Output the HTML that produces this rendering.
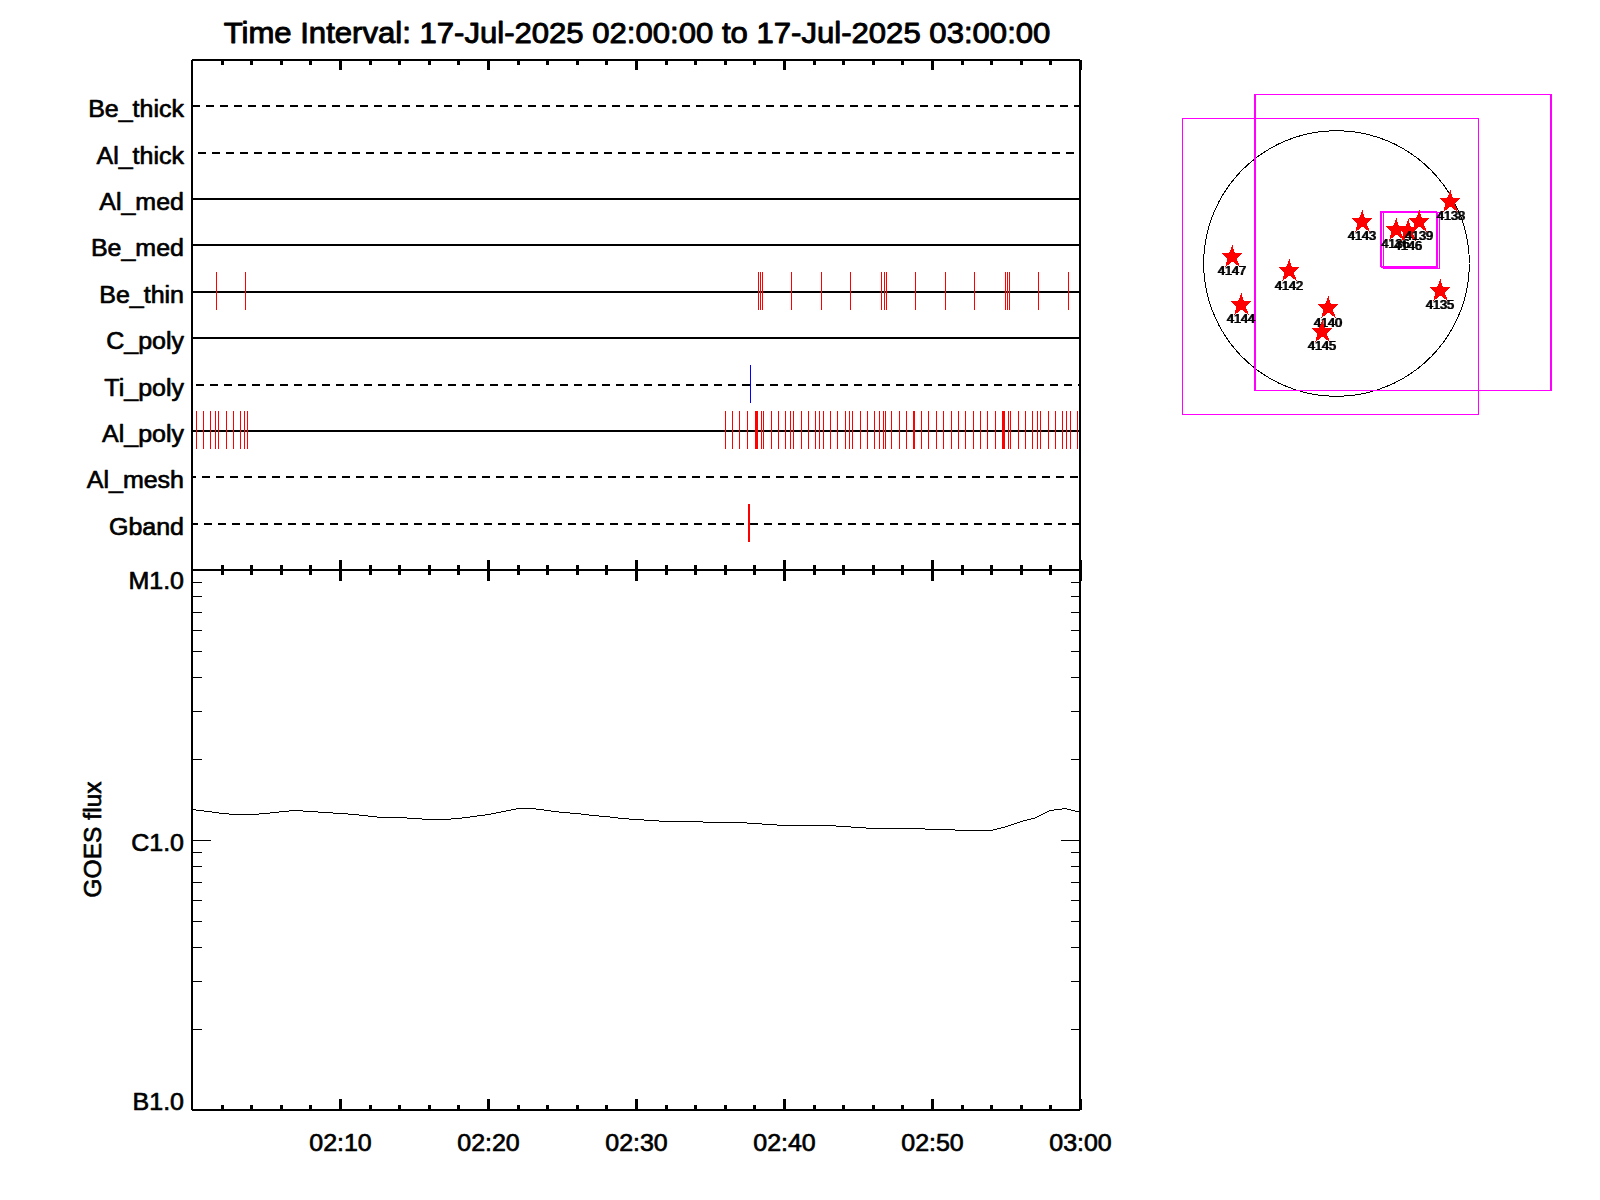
<!DOCTYPE html>
<html lang="en">
<head>
<meta charset="utf-8">
<title>XRT observation timeline</title>
<style>
html,body{margin:0;padding:0;background:#fff;}
body{width:1600px;height:1200px;overflow:hidden;}
svg{display:block;}
#frame,#xticks,#yticks,#rows,#obs,#goes,#fov,#limb{shape-rendering:crispEdges;}
text{white-space:pre;}
</style>
</head>
<body>
<svg width="1600" height="1200" viewBox="0 0 1600 1200">
<rect x="0" y="0" width="1600" height="1200" fill="#fff"/>
<g id="frame" fill="#000">
<rect x="191" y="59" width="2" height="1052" fill="#000"/>
<rect x="1079" y="59" width="2" height="1052" fill="#000"/>
<rect x="191" y="59" width="890" height="2" fill="#000"/>
<rect x="191" y="569" width="890" height="2" fill="#000"/>
<rect x="191" y="1109" width="890" height="2" fill="#000"/>
<rect x="191" y="59" width="1" height="1" fill="#fff"/>
<rect x="1080" y="59" width="1" height="1" fill="#fff"/>
<rect x="191" y="1110" width="1" height="1" fill="#fff"/>
<rect x="1080" y="1110" width="1" height="1" fill="#fff"/>
</g>
<g id="xticks" fill="#000">
<rect x="221" y="61" width="3" height="4" fill="#000"/>
<rect x="221" y="565" width="3" height="10" fill="#000"/>
<rect x="221" y="1105" width="3" height="4" fill="#000"/>
<rect x="250" y="61" width="3" height="4" fill="#000"/>
<rect x="250" y="565" width="3" height="10" fill="#000"/>
<rect x="250" y="1105" width="3" height="4" fill="#000"/>
<rect x="280" y="61" width="3" height="4" fill="#000"/>
<rect x="280" y="565" width="3" height="10" fill="#000"/>
<rect x="280" y="1105" width="3" height="4" fill="#000"/>
<rect x="309" y="61" width="3" height="4" fill="#000"/>
<rect x="309" y="565" width="3" height="10" fill="#000"/>
<rect x="309" y="1105" width="3" height="4" fill="#000"/>
<rect x="339" y="61" width="3" height="9" fill="#000"/>
<rect x="339" y="560" width="3" height="21" fill="#000"/>
<rect x="339" y="1099" width="3" height="10" fill="#000"/>
<rect x="369" y="61" width="3" height="4" fill="#000"/>
<rect x="369" y="565" width="3" height="10" fill="#000"/>
<rect x="369" y="1105" width="3" height="4" fill="#000"/>
<rect x="398" y="61" width="3" height="4" fill="#000"/>
<rect x="398" y="565" width="3" height="10" fill="#000"/>
<rect x="398" y="1105" width="3" height="4" fill="#000"/>
<rect x="428" y="61" width="3" height="4" fill="#000"/>
<rect x="428" y="565" width="3" height="10" fill="#000"/>
<rect x="428" y="1105" width="3" height="4" fill="#000"/>
<rect x="457" y="61" width="3" height="4" fill="#000"/>
<rect x="457" y="565" width="3" height="10" fill="#000"/>
<rect x="457" y="1105" width="3" height="4" fill="#000"/>
<rect x="487" y="61" width="3" height="9" fill="#000"/>
<rect x="487" y="560" width="3" height="21" fill="#000"/>
<rect x="487" y="1099" width="3" height="10" fill="#000"/>
<rect x="517" y="61" width="3" height="4" fill="#000"/>
<rect x="517" y="565" width="3" height="10" fill="#000"/>
<rect x="517" y="1105" width="3" height="4" fill="#000"/>
<rect x="546" y="61" width="3" height="4" fill="#000"/>
<rect x="546" y="565" width="3" height="10" fill="#000"/>
<rect x="546" y="1105" width="3" height="4" fill="#000"/>
<rect x="576" y="61" width="3" height="4" fill="#000"/>
<rect x="576" y="565" width="3" height="10" fill="#000"/>
<rect x="576" y="1105" width="3" height="4" fill="#000"/>
<rect x="605" y="61" width="3" height="4" fill="#000"/>
<rect x="605" y="565" width="3" height="10" fill="#000"/>
<rect x="605" y="1105" width="3" height="4" fill="#000"/>
<rect x="635" y="61" width="3" height="9" fill="#000"/>
<rect x="635" y="560" width="3" height="21" fill="#000"/>
<rect x="635" y="1099" width="3" height="10" fill="#000"/>
<rect x="665" y="61" width="3" height="4" fill="#000"/>
<rect x="665" y="565" width="3" height="10" fill="#000"/>
<rect x="665" y="1105" width="3" height="4" fill="#000"/>
<rect x="694" y="61" width="3" height="4" fill="#000"/>
<rect x="694" y="565" width="3" height="10" fill="#000"/>
<rect x="694" y="1105" width="3" height="4" fill="#000"/>
<rect x="724" y="61" width="3" height="4" fill="#000"/>
<rect x="724" y="565" width="3" height="10" fill="#000"/>
<rect x="724" y="1105" width="3" height="4" fill="#000"/>
<rect x="753" y="61" width="3" height="4" fill="#000"/>
<rect x="753" y="565" width="3" height="10" fill="#000"/>
<rect x="753" y="1105" width="3" height="4" fill="#000"/>
<rect x="783" y="61" width="3" height="9" fill="#000"/>
<rect x="783" y="560" width="3" height="21" fill="#000"/>
<rect x="783" y="1099" width="3" height="10" fill="#000"/>
<rect x="813" y="61" width="3" height="4" fill="#000"/>
<rect x="813" y="565" width="3" height="10" fill="#000"/>
<rect x="813" y="1105" width="3" height="4" fill="#000"/>
<rect x="842" y="61" width="3" height="4" fill="#000"/>
<rect x="842" y="565" width="3" height="10" fill="#000"/>
<rect x="842" y="1105" width="3" height="4" fill="#000"/>
<rect x="872" y="61" width="3" height="4" fill="#000"/>
<rect x="872" y="565" width="3" height="10" fill="#000"/>
<rect x="872" y="1105" width="3" height="4" fill="#000"/>
<rect x="901" y="61" width="3" height="4" fill="#000"/>
<rect x="901" y="565" width="3" height="10" fill="#000"/>
<rect x="901" y="1105" width="3" height="4" fill="#000"/>
<rect x="931" y="61" width="3" height="9" fill="#000"/>
<rect x="931" y="560" width="3" height="21" fill="#000"/>
<rect x="931" y="1099" width="3" height="10" fill="#000"/>
<rect x="961" y="61" width="3" height="4" fill="#000"/>
<rect x="961" y="565" width="3" height="10" fill="#000"/>
<rect x="961" y="1105" width="3" height="4" fill="#000"/>
<rect x="990" y="61" width="3" height="4" fill="#000"/>
<rect x="990" y="565" width="3" height="10" fill="#000"/>
<rect x="990" y="1105" width="3" height="4" fill="#000"/>
<rect x="1020" y="61" width="3" height="4" fill="#000"/>
<rect x="1020" y="565" width="3" height="10" fill="#000"/>
<rect x="1020" y="1105" width="3" height="4" fill="#000"/>
<rect x="1049" y="61" width="3" height="4" fill="#000"/>
<rect x="1049" y="565" width="3" height="10" fill="#000"/>
<rect x="1049" y="1105" width="3" height="4" fill="#000"/>
<rect x="1079" y="61" width="3" height="9" fill="#000"/>
<rect x="1079" y="560" width="3" height="21" fill="#000"/>
<rect x="1079" y="1099" width="3" height="10" fill="#000"/>
<rect x="1081" y="60" width="1" height="10" fill="#000"/>
<rect x="1081" y="1099" width="1" height="11" fill="#000"/>
</g>
<g id="yticks" fill="#000">
<rect x="193" y="840" width="18" height="1" fill="#000"/>
<rect x="1061" y="840" width="18" height="1" fill="#000"/>
<rect x="193" y="759" width="9" height="1" fill="#000"/>
<rect x="1071" y="759" width="8" height="1" fill="#000"/>
<rect x="193" y="711" width="9" height="1" fill="#000"/>
<rect x="1071" y="711" width="8" height="1" fill="#000"/>
<rect x="193" y="677" width="9" height="1" fill="#000"/>
<rect x="1071" y="677" width="8" height="1" fill="#000"/>
<rect x="193" y="651" width="9" height="1" fill="#000"/>
<rect x="1071" y="651" width="8" height="1" fill="#000"/>
<rect x="193" y="630" width="9" height="1" fill="#000"/>
<rect x="1071" y="630" width="8" height="1" fill="#000"/>
<rect x="193" y="612" width="9" height="1" fill="#000"/>
<rect x="1071" y="612" width="8" height="1" fill="#000"/>
<rect x="193" y="596" width="9" height="1" fill="#000"/>
<rect x="1071" y="596" width="8" height="1" fill="#000"/>
<rect x="193" y="582" width="9" height="1" fill="#000"/>
<rect x="1071" y="582" width="8" height="1" fill="#000"/>
<rect x="193" y="1029" width="9" height="1" fill="#000"/>
<rect x="1071" y="1029" width="8" height="1" fill="#000"/>
<rect x="193" y="981" width="9" height="1" fill="#000"/>
<rect x="1071" y="981" width="8" height="1" fill="#000"/>
<rect x="193" y="947" width="9" height="1" fill="#000"/>
<rect x="1071" y="947" width="8" height="1" fill="#000"/>
<rect x="193" y="921" width="9" height="1" fill="#000"/>
<rect x="1071" y="921" width="8" height="1" fill="#000"/>
<rect x="193" y="900" width="9" height="1" fill="#000"/>
<rect x="1071" y="900" width="8" height="1" fill="#000"/>
<rect x="193" y="882" width="9" height="1" fill="#000"/>
<rect x="1071" y="882" width="8" height="1" fill="#000"/>
<rect x="193" y="866" width="9" height="1" fill="#000"/>
<rect x="1071" y="866" width="8" height="1" fill="#000"/>
<rect x="193" y="852" width="9" height="1" fill="#000"/>
<rect x="1071" y="852" width="8" height="1" fill="#000"/>
</g>
<g id="rows">
<path d="M193 106H200M206 106H214M220 106H228M234 106H242M248 106H256M262 106H270M276 106H284M290 106H298M304 106H312M318 106H326M332 106H340M346 106H354M360 106H368M374 106H382M388 106H396M402 106H410M416 106H424M430 106H438M444 106H452M458 106H466M472 106H480M486 106H494M500 106H508M514 106H522M528 106H536M542 106H550M556 106H564M570 106H578M584 106H592M598 106H606M612 106H620M626 106H634M640 106H648M654 106H662M668 106H676M682 106H690M696 106H704M710 106H718M724 106H732M738 106H746M752 106H760M766 106H774M780 106H788M794 106H802M808 106H816M822 106H830M836 106H844M850 106H858M864 106H872M878 106H886M892 106H900M906 106H914M920 106H928M934 106H942M948 106H956M962 106H970M976 106H984M990 106H998M1004 106H1012M1018 106H1026M1032 106H1040M1046 106H1054M1060 106H1068M1074 106H1079" stroke="#000" stroke-width="2" fill="none"/>
<path d="M198 153H206M212 153H220M226 153H234M240 153H248M254 153H262M268 153H276M282 153H290M296 153H304M310 153H318M324 153H332M338 153H346M352 153H360M366 153H374M380 153H388M394 153H402M408 153H416M422 153H430M436 153H444M450 153H458M464 153H472M478 153H486M492 153H500M506 153H514M520 153H528M534 153H542M548 153H556M562 153H570M576 153H584M590 153H598M604 153H612M618 153H626M632 153H640M646 153H654M660 153H668M674 153H682M688 153H696M702 153H710M716 153H724M730 153H738M744 153H752M758 153H766M772 153H780M786 153H794M800 153H808M814 153H822M828 153H836M842 153H850M856 153H864M870 153H878M884 153H892M898 153H906M912 153H920M926 153H934M940 153H948M954 153H962M968 153H976M982 153H990M996 153H1004M1010 153H1018M1024 153H1032M1038 153H1046M1052 153H1060M1066 153H1074" stroke="#000" stroke-width="2" fill="none"/>
<rect x="193" y="198" width="886" height="2" fill="#000"/>
<rect x="193" y="244" width="886" height="2" fill="#000"/>
<rect x="193" y="291" width="886" height="2" fill="#000"/>
<rect x="193" y="337" width="886" height="2" fill="#000"/>
<path d="M196 385H204M210 385H218M224 385H232M238 385H246M252 385H260M266 385H274M280 385H288M294 385H302M308 385H316M322 385H330M336 385H344M350 385H358M364 385H372M378 385H386M392 385H400M406 385H414M420 385H428M434 385H442M448 385H456M462 385H470M476 385H484M490 385H498M504 385H512M518 385H526M532 385H540M546 385H554M560 385H568M574 385H582M588 385H596M602 385H610M616 385H624M630 385H638M644 385H652M658 385H666M672 385H680M686 385H694M700 385H708M714 385H722M728 385H736M742 385H750M756 385H764M770 385H778M784 385H792M798 385H806M812 385H820M826 385H834M840 385H848M854 385H862M868 385H876M882 385H890M896 385H904M910 385H918M924 385H932M938 385H946M952 385H960M966 385H974M980 385H988M994 385H1002M1008 385H1016M1022 385H1030M1036 385H1044M1050 385H1058M1064 385H1072M1078 385H1079" stroke="#000" stroke-width="2" fill="none"/>
<rect x="193" y="430" width="886" height="2" fill="#000"/>
<path d="M193 477H196M202 477H210M216 477H224M230 477H238M244 477H252M258 477H266M272 477H280M286 477H294M300 477H308M314 477H322M328 477H336M342 477H350M356 477H364M370 477H378M384 477H392M398 477H406M412 477H420M426 477H434M440 477H448M454 477H462M468 477H476M482 477H490M496 477H504M510 477H518M524 477H532M538 477H546M552 477H560M566 477H574M580 477H588M594 477H602M608 477H616M622 477H630M636 477H644M650 477H658M664 477H672M678 477H686M692 477H700M706 477H714M720 477H728M734 477H742M748 477H756M762 477H770M776 477H784M790 477H798M804 477H812M818 477H826M832 477H840M846 477H854M860 477H868M874 477H882M888 477H896M902 477H910M916 477H924M930 477H938M944 477H952M958 477H966M972 477H980M986 477H994M1000 477H1008M1014 477H1022M1028 477H1036M1042 477H1050M1056 477H1064M1070 477H1078" stroke="#000" stroke-width="2" fill="none"/>
<path d="M193 524H198M204 524H212M218 524H226M232 524H240M246 524H254M260 524H268M274 524H282M288 524H296M302 524H310M316 524H324M330 524H338M344 524H352M358 524H366M372 524H380M386 524H394M400 524H408M414 524H422M428 524H436M442 524H450M456 524H464M470 524H478M484 524H492M498 524H506M512 524H520M526 524H534M540 524H548M554 524H562M568 524H576M582 524H590M596 524H604M610 524H618M624 524H632M638 524H646M652 524H660M666 524H674M680 524H688M694 524H702M708 524H716M722 524H730M736 524H744M750 524H758M764 524H772M778 524H786M792 524H800M806 524H814M820 524H828M834 524H842M848 524H856M862 524H870M876 524H884M890 524H898M904 524H912M918 524H926M932 524H940M946 524H954M960 524H968M974 524H982M988 524H996M1002 524H1010M1016 524H1024M1030 524H1038M1044 524H1052M1058 524H1066M1072 524H1079" stroke="#000" stroke-width="2" fill="none"/>
</g>
<g id="obs" fill="#f00">
<rect x="216" y="272" width="1" height="38" fill="#f00"/>
<rect x="245" y="272" width="1" height="38" fill="#f00"/>
<rect x="758" y="272" width="1" height="38" fill="#f00"/>
<rect x="760" y="272" width="1" height="38" fill="#f00"/>
<rect x="762" y="272" width="1" height="38" fill="#f00"/>
<rect x="791" y="272" width="1" height="38" fill="#f00"/>
<rect x="821" y="272" width="1" height="38" fill="#f00"/>
<rect x="850" y="272" width="1" height="38" fill="#f00"/>
<rect x="881" y="272" width="1" height="38" fill="#f00"/>
<rect x="884" y="272" width="1" height="38" fill="#f00"/>
<rect x="886" y="272" width="1" height="38" fill="#f00"/>
<rect x="915" y="272" width="1" height="38" fill="#f00"/>
<rect x="945" y="272" width="1" height="38" fill="#f00"/>
<rect x="974" y="272" width="1" height="38" fill="#f00"/>
<rect x="1005" y="272" width="1" height="38" fill="#f00"/>
<rect x="1007" y="272" width="1" height="38" fill="#f00"/>
<rect x="1009" y="272" width="1" height="38" fill="#f00"/>
<rect x="1038" y="272" width="1" height="38" fill="#f00"/>
<rect x="1068" y="272" width="1" height="38" fill="#f00"/>
<rect x="196" y="411" width="1" height="38" fill="#f00"/>
<rect x="203" y="411" width="1" height="38" fill="#f00"/>
<rect x="210" y="411" width="1" height="38" fill="#f00"/>
<rect x="215" y="411" width="1" height="38" fill="#f00"/>
<rect x="218" y="411" width="1" height="38" fill="#f00"/>
<rect x="226" y="411" width="1" height="38" fill="#f00"/>
<rect x="233" y="411" width="1" height="38" fill="#f00"/>
<rect x="240" y="411" width="1" height="38" fill="#f00"/>
<rect x="244" y="411" width="1" height="38" fill="#f00"/>
<rect x="247" y="411" width="1" height="38" fill="#f00"/>
<rect x="725" y="411" width="1" height="38" fill="#f00"/>
<rect x="732" y="411" width="1" height="38" fill="#f00"/>
<rect x="739" y="411" width="1" height="38" fill="#f00"/>
<rect x="747" y="411" width="1" height="38" fill="#f00"/>
<rect x="755" y="411" width="1" height="38" fill="#f00"/>
<rect x="756" y="411" width="1" height="38" fill="#f00"/>
<rect x="757" y="411" width="1" height="38" fill="#f00"/>
<rect x="761" y="411" width="1" height="38" fill="#f00"/>
<rect x="763" y="411" width="1" height="38" fill="#f00"/>
<rect x="771" y="411" width="1" height="38" fill="#f00"/>
<rect x="778" y="411" width="1" height="38" fill="#f00"/>
<rect x="785" y="411" width="1" height="38" fill="#f00"/>
<rect x="790" y="411" width="1" height="38" fill="#f00"/>
<rect x="793" y="411" width="1" height="38" fill="#f00"/>
<rect x="801" y="411" width="1" height="38" fill="#f00"/>
<rect x="808" y="411" width="1" height="38" fill="#f00"/>
<rect x="815" y="411" width="1" height="38" fill="#f00"/>
<rect x="819" y="411" width="1" height="38" fill="#f00"/>
<rect x="823" y="411" width="1" height="38" fill="#f00"/>
<rect x="830" y="411" width="1" height="38" fill="#f00"/>
<rect x="837" y="411" width="1" height="38" fill="#f00"/>
<rect x="845" y="411" width="1" height="38" fill="#f00"/>
<rect x="849" y="411" width="1" height="38" fill="#f00"/>
<rect x="852" y="411" width="1" height="38" fill="#f00"/>
<rect x="860" y="411" width="1" height="38" fill="#f00"/>
<rect x="867" y="411" width="1" height="38" fill="#f00"/>
<rect x="874" y="411" width="1" height="38" fill="#f00"/>
<rect x="879" y="411" width="1" height="38" fill="#f00"/>
<rect x="883" y="411" width="1" height="38" fill="#f00"/>
<rect x="885" y="411" width="1" height="38" fill="#f00"/>
<rect x="891" y="411" width="1" height="38" fill="#f00"/>
<rect x="899" y="411" width="1" height="38" fill="#f00"/>
<rect x="906" y="411" width="1" height="38" fill="#f00"/>
<rect x="913" y="411" width="1" height="38" fill="#f00"/>
<rect x="914" y="411" width="1" height="38" fill="#f00"/>
<rect x="921" y="411" width="1" height="38" fill="#f00"/>
<rect x="928" y="411" width="1" height="38" fill="#f00"/>
<rect x="936" y="411" width="1" height="38" fill="#f00"/>
<rect x="943" y="411" width="1" height="38" fill="#f00"/>
<rect x="951" y="411" width="1" height="38" fill="#f00"/>
<rect x="958" y="411" width="1" height="38" fill="#f00"/>
<rect x="965" y="411" width="1" height="38" fill="#f00"/>
<rect x="973" y="411" width="1" height="38" fill="#f00"/>
<rect x="980" y="411" width="1" height="38" fill="#f00"/>
<rect x="987" y="411" width="1" height="38" fill="#f00"/>
<rect x="995" y="411" width="1" height="38" fill="#f00"/>
<rect x="1002" y="411" width="1" height="38" fill="#f00"/>
<rect x="1003" y="411" width="1" height="38" fill="#f00"/>
<rect x="1004" y="411" width="1" height="38" fill="#f00"/>
<rect x="1008" y="411" width="1" height="38" fill="#f00"/>
<rect x="1010" y="411" width="1" height="38" fill="#f00"/>
<rect x="1018" y="411" width="1" height="38" fill="#f00"/>
<rect x="1025" y="411" width="1" height="38" fill="#f00"/>
<rect x="1032" y="411" width="1" height="38" fill="#f00"/>
<rect x="1037" y="411" width="1" height="38" fill="#f00"/>
<rect x="1040" y="411" width="1" height="38" fill="#f00"/>
<rect x="1048" y="411" width="1" height="38" fill="#f00"/>
<rect x="1055" y="411" width="1" height="38" fill="#f00"/>
<rect x="1062" y="411" width="1" height="38" fill="#f00"/>
<rect x="1066" y="411" width="1" height="38" fill="#f00"/>
<rect x="1070" y="411" width="1" height="38" fill="#f00"/>
<rect x="1077" y="411" width="1" height="38" fill="#f00"/>
<rect x="750" y="365" width="1" height="38" fill="#00f"/>
<rect x="748" y="504" width="2" height="38" fill="#f00"/>
</g>
<g id="labels" font-family='"Liberation Sans", sans-serif' fill="#000" font-size="25" stroke="#000" stroke-width="0.7" stroke-linejoin="round">
<text transform="translate(184,116.5) scale(1,0.95)" text-anchor="end">Be_thick</text>
<text transform="translate(184,163.5) scale(1,0.95)" text-anchor="end">Al_thick</text>
<text transform="translate(184,209.5) scale(1,0.95)" text-anchor="end">Al_med</text>
<text transform="translate(184,255.5) scale(1,0.95)" text-anchor="end">Be_med</text>
<text transform="translate(184,302.5) scale(1,0.95)" text-anchor="end">Be_thin</text>
<text transform="translate(184,348.5) scale(1,0.95)" text-anchor="end">C_poly</text>
<text transform="translate(184,395.5) scale(1,0.95)" text-anchor="end">Ti_poly</text>
<text transform="translate(184,441.5) scale(1,0.95)" text-anchor="end">Al_poly</text>
<text transform="translate(184,487.5) scale(1,0.95)" text-anchor="end">Al_mesh</text>
<text transform="translate(184,534.5) scale(1,0.95)" text-anchor="end">Gband</text>
<text transform="translate(184,589) scale(1,0.95)" text-anchor="end">M1.0</text>
<text transform="translate(184,851) scale(1,0.95)" text-anchor="end">C1.0</text>
<text transform="translate(184,1110) scale(1,0.95)" text-anchor="end">B1.0</text>
<text transform="translate(340.5,1150.5) scale(1,0.95)" text-anchor="middle">02:10</text>
<text transform="translate(488.5,1150.5) scale(1,0.95)" text-anchor="middle">02:20</text>
<text transform="translate(636.5,1150.5) scale(1,0.95)" text-anchor="middle">02:30</text>
<text transform="translate(784.5,1150.5) scale(1,0.95)" text-anchor="middle">02:40</text>
<text transform="translate(932.5,1150.5) scale(1,0.95)" text-anchor="middle">02:50</text>
<text transform="translate(1080.5,1150.5) scale(1,0.95)" text-anchor="middle">03:00</text>
<text transform="translate(100.5,839.5) rotate(-90) scale(0.985,0.95)" text-anchor="middle">GOES flux</text>
</g>
<text id="title" transform="translate(637,42.6) scale(1,0.94)" text-anchor="middle" font-family='"Liberation Sans", sans-serif' font-size="31.1" fill="#000" stroke="#000" stroke-width="1" stroke-linejoin="round">Time Interval: 17-Jul-2025 02:00:00 to 17-Jul-2025 03:00:00</text>
<path id="goes" d="M193 809.5H196M196 810.5H204M204 811.5H212M212 812.5H219M219 813.5H229M229 814.5H259M259 813.5H270M270 812.5H279M279 811.5H289M289 810.5H303M303 811.5H318M318 812.5H333M333 813.5H348M348 814.5H359M359 815.5H368M368 816.5H377M377 817.5H407M407 818.5H422M422 819.5H451M451 818.5H462M462 817.5H470M470 816.5H477M477 815.5H485M485 814.5H491M491 813.5H496M496 812.5H501M501 811.5H506M506 810.5H511M511 809.5H516M516 808.5H536M536 809.5H544M544 810.5H551M551 811.5H559M559 812.5H570M570 813.5H581M581 814.5H589M589 815.5H599M599 816.5H610M610 817.5H618M618 818.5H629M629 819.5H644M644 820.5H659M659 821.5H703M703 822.5H747M747 823.5H762M762 824.5H777M777 825.5H836M836 826.5H851M851 827.5H866M866 828.5H925M925 829.5H955M955 830.5H993M993 829.5H997M997 828.5H1001M1001 827.5H1005M1005 826.5H1008M1008 825.5H1011M1011 824.5H1014M1014 823.5H1017M1017 822.5H1020M1020 821.5H1023M1023 820.5H1027M1027 819.5H1031M1031 818.5H1035M1035 817.5H1037M1037 816.5H1039M1039 815.5H1041M1041 814.5H1043M1043 813.5H1045M1045 812.5H1047M1047 811.5H1049M1049 810.5H1054M1054 809.5H1062M1062 808.5H1067M1067 809.5H1071M1071 810.5H1075M1075 811.5H1079" stroke="#000" stroke-width="1" fill="none"/>
<polyline id="limb" points="1469.3,263.5 1469.0,272.8 1468.0,282.0 1466.4,291.1 1464.2,300.1 1461.3,308.9 1457.8,317.5 1453.8,325.8 1449.1,333.9 1443.9,341.6 1438.2,348.9 1432.0,355.8 1425.4,362.2 1418.3,368.1 1410.8,373.6 1402.9,378.5 1394.7,382.9 1386.2,386.6 1377.5,389.8 1368.6,392.4 1359.6,394.3 1350.4,395.6 1341.1,396.2 1331.9,396.2 1322.6,395.6 1313.4,394.3 1304.4,392.4 1295.5,389.8 1286.8,386.6 1278.3,382.9 1270.1,378.5 1262.2,373.6 1254.7,368.1 1247.6,362.2 1241.0,355.8 1234.8,348.9 1229.1,341.6 1223.9,333.9 1219.2,325.8 1215.2,317.5 1211.7,308.9 1208.8,300.1 1206.6,291.1 1205.0,282.0 1204.0,272.8 1203.7,263.5 1204.0,254.2 1205.0,245.0 1206.6,235.9 1208.8,226.9 1211.7,218.1 1215.2,209.5 1219.2,201.2 1223.9,193.1 1229.1,185.4 1234.8,178.1 1241.0,171.2 1247.6,164.8 1254.7,158.9 1262.2,153.4 1270.1,148.5 1278.3,144.1 1286.8,140.4 1295.5,137.2 1304.4,134.6 1313.4,132.7 1322.6,131.4 1331.9,130.8 1341.1,130.8 1350.4,131.4 1359.6,132.7 1368.6,134.6 1377.5,137.2 1386.2,140.4 1394.7,144.1 1402.9,148.5 1410.8,153.4 1418.3,158.9 1425.4,164.8 1432.0,171.2 1438.2,178.1 1443.9,185.4 1449.1,193.1 1453.8,201.2 1457.8,209.5 1461.3,218.1 1464.2,226.9 1466.4,235.9 1468.0,245.0 1469.0,254.2 1469.3,263.5" fill="none" stroke="#000" stroke-width="1"/>
<g id="fov" fill="none" stroke="#f0f" stroke-width="1">
<rect x="1254.5" y="94.5" width="296" height="296"/>
<rect x="1255.5" y="94.5" width="296" height="296"/>
<rect x="1182.5" y="118.5" width="296" height="296"/>
<rect x="1380.5" y="211.5" width="56" height="55"/>
<rect x="1381.5" y="212.5" width="56" height="55"/>
<rect x="1383.5" y="212.5" width="56" height="56"/>
</g>
<defs><filter id="thick" x="-10%" y="-20%" width="120%" height="140%" color-interpolation-filters="sRGB"><feOffset in="SourceGraphic" dx="1" dy="0" result="o"/><feMerge><feMergeNode in="SourceGraphic"/><feMergeNode in="o"/></feMerge></filter></defs>
<g id="ars" font-family='"Liberation Sans", sans-serif' font-size="12.7" text-anchor="middle" fill="#000">
<polygon points="1440.30,278.80 1442.97,287.00 1450.50,287.00 1444.68,292.82 1448.00,301.10 1440.50,295.60 1433.37,300.83 1435.36,292.86 1429.50,287.00 1437.22,287.00" fill="#f00" stroke="none" shape-rendering="crispEdges"/>
<text x="1439.5" y="309" filter="url(#thick)" stroke="#000" stroke-width="0.2">4135</text>
<polygon points="1396.30,217.80 1398.97,226.00 1406.50,226.00 1400.68,231.82 1404.00,240.10 1396.50,234.60 1389.37,239.83 1391.36,231.86 1385.50,226.00 1393.22,226.00" fill="#f00" stroke="none" shape-rendering="crispEdges"/>
<text x="1395.0" y="248" filter="url(#thick)" stroke="#000" stroke-width="0.2">4136</text>
<polygon points="1408.30,218.80 1410.97,227.00 1418.50,227.00 1412.68,232.82 1416.00,241.10 1408.50,235.60 1401.37,240.83 1403.36,232.86 1397.50,227.00 1405.22,227.00" fill="#f00" stroke="none" shape-rendering="crispEdges"/>
<text x="1407.5" y="250" filter="url(#thick)" stroke="#000" stroke-width="0.2">4146</text>
<polygon points="1450.30,189.80 1452.97,198.00 1460.50,198.00 1454.68,203.82 1458.00,212.10 1450.50,206.60 1443.37,211.83 1445.36,203.86 1439.50,198.00 1447.22,198.00" fill="#f00" stroke="none" shape-rendering="crispEdges"/>
<text x="1450.5" y="220" filter="url(#thick)" stroke="#000" stroke-width="0.2">4138</text>
<polygon points="1419.30,209.80 1421.97,218.00 1429.50,218.00 1423.68,223.82 1427.00,232.10 1419.50,226.60 1412.37,231.83 1414.36,223.86 1408.50,218.00 1416.22,218.00" fill="#f00" stroke="none" shape-rendering="crispEdges"/>
<text x="1418.5" y="240" filter="url(#thick)" stroke="#000" stroke-width="0.2">4139</text>
<polygon points="1328.30,295.80 1330.97,304.00 1338.50,304.00 1332.68,309.82 1336.00,318.10 1328.50,312.60 1321.37,317.83 1323.36,309.86 1317.50,304.00 1325.22,304.00" fill="#f00" stroke="none" shape-rendering="crispEdges"/>
<text x="1327.5" y="327" filter="url(#thick)" stroke="#000" stroke-width="0.2">4140</text>
<polygon points="1289.30,258.80 1291.97,267.00 1299.50,267.00 1293.68,272.82 1297.00,281.10 1289.50,275.60 1282.37,280.83 1284.36,272.86 1278.50,267.00 1286.22,267.00" fill="#f00" stroke="none" shape-rendering="crispEdges"/>
<text x="1288.5" y="290" filter="url(#thick)" stroke="#000" stroke-width="0.2">4142</text>
<polygon points="1362.30,209.80 1364.97,218.00 1372.50,218.00 1366.68,223.82 1370.00,232.10 1362.50,226.60 1355.37,231.83 1357.36,223.86 1351.50,218.00 1359.22,218.00" fill="#f00" stroke="none" shape-rendering="crispEdges"/>
<text x="1361.5" y="240" filter="url(#thick)" stroke="#000" stroke-width="0.2">4143</text>
<polygon points="1241.30,292.80 1243.97,301.00 1251.50,301.00 1245.68,306.82 1249.00,315.10 1241.50,309.60 1234.37,314.83 1236.36,306.86 1230.50,301.00 1238.22,301.00" fill="#f00" stroke="none" shape-rendering="crispEdges"/>
<text x="1240.5" y="323" filter="url(#thick)" stroke="#000" stroke-width="0.2">4144</text>
<polygon points="1322.30,319.80 1324.97,328.00 1332.50,328.00 1326.68,333.82 1330.00,342.10 1322.50,336.60 1315.37,341.83 1317.36,333.86 1311.50,328.00 1319.22,328.00" fill="#f00" stroke="none" shape-rendering="crispEdges"/>
<text x="1321.5" y="350" filter="url(#thick)" stroke="#000" stroke-width="0.2">4145</text>
<polygon points="1232.30,244.80 1234.97,253.00 1242.50,253.00 1236.68,258.82 1240.00,267.10 1232.50,261.60 1225.37,266.83 1227.36,258.86 1221.50,253.00 1229.22,253.00" fill="#f00" stroke="none" shape-rendering="crispEdges"/>
<text x="1231.5" y="275" filter="url(#thick)" stroke="#000" stroke-width="0.2">4147</text>
</g>
</svg>
</body>
</html>
